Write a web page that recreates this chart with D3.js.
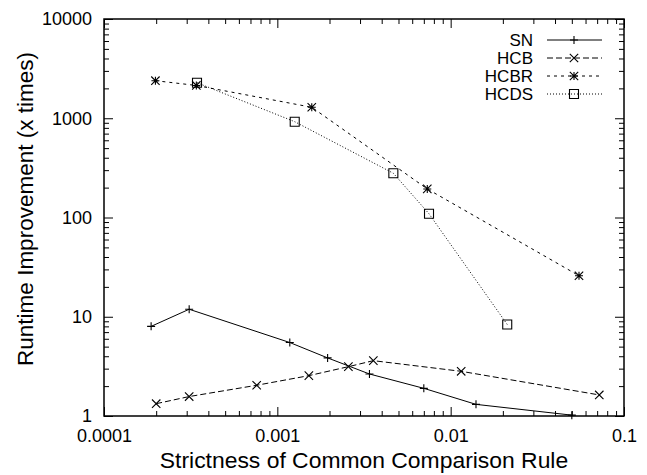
<!DOCTYPE html>
<html><head><meta charset="utf-8">
<script src="https://cdn.jsdelivr.net/npm/d3@7"></script>
<style>
html,body{margin:0;padding:0;background:#fff;}
svg{display:block;font-family:"Liberation Sans",Arial,Helvetica,sans-serif;}
</style></head>
<body>
<svg id="chart" width="647" height="475"></svg>
<script>
// ---- data ----
const seriesNames = ["SN", "HCB", "HCBR", "HCDS"];
const snX = [1.87e-4, 3.1e-4, 1.18e-3, 1.95e-3, 3.4e-3, 7.0e-3, 0.014, 0.05];
const snY = [8.0, 11.9, 5.5, 3.85, 2.65, 1.9, 1.31, 1.02];
const hcbX = [2.0e-4, 3.1e-4, 7.6e-4, 1.52e-3, 2.57e-3, 3.58e-3, 0.0115, 0.072];
const hcbY = [1.33, 1.57, 2.04, 2.55, 3.14, 3.61, 2.82, 1.63];
const hcbrX = [1.98e-4, 3.41e-4, 1.58e-3, 7.33e-3, 0.055];
const hcbrY = [2390, 2140, 1290, 194, 25.9];
const hcdsX = [3.44e-4, 1.26e-3, 4.67e-3, 7.5e-3, 0.0212];
const hcdsY = [2280, 923, 279, 109, 8.36];
const xTickValues = [1e-4, 1e-3, 1e-2, 1e-1];
const xTickLabels = ["0.0001", "0.001", "0.01", "0.1"];
const yTickValues = [1, 10, 100, 1000, 10000];
const yTickLabels = ["1", "10", "100", "1000", "10000"];
const xTitle = "Strictness of Common Comparison Rule";
const yTitle = "Runtime Improvement (x times)";

// ---- layout ----
const L = 104, R = 624, T = 19, B = 416;
const svg = d3.select("#chart");
const x = d3.scaleLog().domain([1e-4, 1e-1]).range([L, R]);
const y = d3.scaleLog().domain([1, 1e4]).range([B, T]);

function minors(lo, hi) {
  const out = [];
  for (let d = lo; d < hi; d *= 10) for (let k = 2; k <= 9; k++) out.push(d * k);
  return out;
}
const xMinor = minors(1e-4, 1e-1), yMinor = minors(1, 1e4);

function styleAxis(g) {
  g.select(".domain").remove();
  g.selectAll("line").attr("stroke", "#000").attr("stroke-width", 1);
  g.selectAll("text").attr("fill", "#000").style("font-size", "18px")
    .style("font-family", '"Liberation Sans",Arial,Helvetica,sans-serif');
}
const fmt = (vals, labels) => v => labels[vals.indexOf(v)];

// bottom
svg.append("g").attr("transform", `translate(0,${B})`)
  .call(d3.axisBottom(x).tickValues(xTickValues).tickFormat(fmt(xTickValues, xTickLabels)).tickSizeInner(-9).tickSizeOuter(0).tickPadding(13))
  .call(styleAxis);
svg.append("g").attr("transform", `translate(0,${B})`)
  .call(d3.axisBottom(x).tickValues(xMinor).tickFormat("").tickSizeInner(-5).tickSizeOuter(0)).call(styleAxis);
// top
svg.append("g").attr("transform", `translate(0,${T})`)
  .call(d3.axisTop(x).tickValues(xTickValues).tickFormat("").tickSizeInner(-9).tickSizeOuter(0)).call(styleAxis);
svg.append("g").attr("transform", `translate(0,${T})`)
  .call(d3.axisTop(x).tickValues(xMinor).tickFormat("").tickSizeInner(-5).tickSizeOuter(0)).call(styleAxis);
// left
svg.append("g").attr("transform", `translate(${L},0)`)
  .call(d3.axisLeft(y).tickValues(yTickValues).tickFormat(fmt(yTickValues, yTickLabels)).tickSizeInner(-9).tickSizeOuter(0).tickPadding(12))
  .call(styleAxis);
svg.append("g").attr("transform", `translate(${L},0)`)
  .call(d3.axisLeft(y).tickValues(yMinor).tickFormat("").tickSizeInner(-5).tickSizeOuter(0)).call(styleAxis);
// right
svg.append("g").attr("transform", `translate(${R},0)`)
  .call(d3.axisRight(y).tickValues(yTickValues).tickFormat("").tickSizeInner(-9).tickSizeOuter(0)).call(styleAxis);
svg.append("g").attr("transform", `translate(${R},0)`)
  .call(d3.axisRight(y).tickValues(yMinor).tickFormat("").tickSizeInner(-5).tickSizeOuter(0)).call(styleAxis);

// frame
svg.append("rect").attr("x", L).attr("y", T).attr("width", R - L).attr("height", B - T)
  .attr("fill", "none").attr("stroke", "#000").attr("stroke-width", 1.5);

// titles
svg.append("text").attr("x", (L + R) / 2).attr("y", 468).attr("text-anchor", "middle")
  .style("font-size", "22.9px").attr("fill", "#000").text(xTitle);
svg.append("text").attr("transform", `translate(33,209) rotate(-90)`).attr("text-anchor", "middle")
  .style("font-size", "22.5px").attr("fill", "#000").text(yTitle);

// ---- series ----
const series = [
  {name: seriesNames[0], xs: snX, ys: snY, dash: null, marker: "plus"},
  {name: seriesNames[1], xs: hcbX, ys: hcbY, dash: "6,3", marker: "cross"},
  {name: seriesNames[2], xs: hcbrX, ys: hcbrY, dash: "3,4", marker: "star"},
  {name: seriesNames[3], xs: hcdsX, ys: hcdsY, dash: "1,2", marker: "box"}
];

function drawMarker(g, type, cx, cy) {
  const s = 4, d = 4.2;
  const p = d3.path();
  if (type === "plus" || type === "star") {
    p.moveTo(cx - s, cy); p.lineTo(cx + s, cy);
    p.moveTo(cx, cy - s); p.lineTo(cx, cy + s);
  }
  if (type === "cross" || type === "star") {
    p.moveTo(cx - d, cy - d); p.lineTo(cx + d, cy + d);
    p.moveTo(cx - d, cy + d); p.lineTo(cx + d, cy - d);
  }
  if (type === "box") {
    p.rect(cx - 4.5, cy - 4.5, 9, 9);
  }
  g.append("path").attr("d", p.toString()).attr("fill", "none").attr("stroke", "#000").attr("stroke-width", 1.1);
}

const line = d3.line().x(d => x(d[0])).y(d => y(d[1]));
series.forEach(s => {
  const pts = s.xs.map((v, i) => [v, s.ys[i]]);
  const g = svg.append("g");
  g.append("path").attr("d", line(pts)).attr("fill", "none").attr("stroke", "#000")
    .attr("stroke-width", 1).attr("stroke-dasharray", s.dash);
  pts.forEach(p => drawMarker(g, s.marker, x(p[0]), y(p[1])));
});

// ---- legend ----
const legY0 = 40, legDy = 18;
series.forEach((s, i) => {
  const yy = legY0 + i * legDy;
  svg.append("text").attr("x", 533).attr("y", yy).attr("dy", "0.35em").attr("text-anchor", "end")
    .style("font-size", "17px").attr("fill", "#000").text(s.name);
  svg.append("line").attr("x1", 547).attr("x2", 602).attr("y1", yy).attr("y2", yy)
    .attr("stroke", "#000").attr("stroke-width", 1).attr("stroke-dasharray", s.dash);
  drawMarker(svg, s.marker, 574, yy);
});
</script>
</body></html>
